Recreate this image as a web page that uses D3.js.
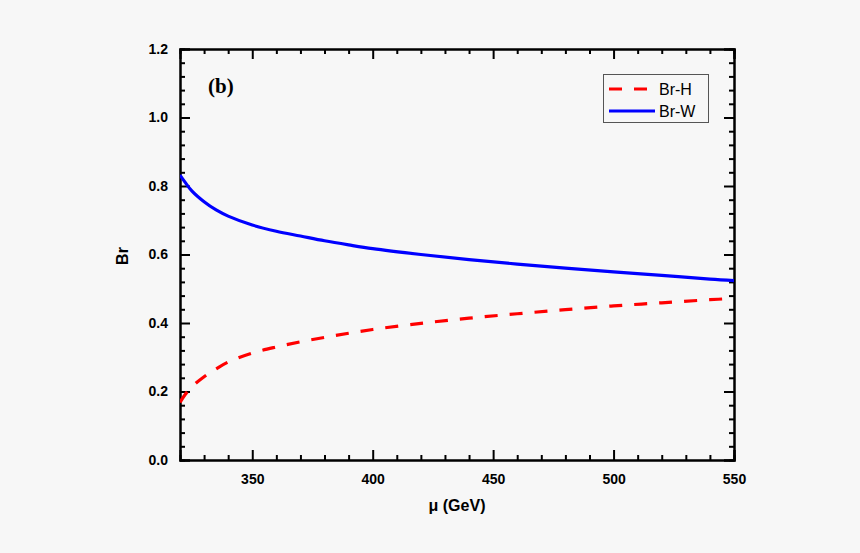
<!DOCTYPE html>
<html>
<head>
<meta charset="utf-8">
<script src="https://cdn.jsdelivr.net/npm/d3@7"></script>
<style>
  html, body { margin: 0; padding: 0; background: #f7f7f7; }
  svg { display: block; }
</style>
</head>
<body>
<svg id="chart" width="860" height="553"></svg>
<script>
// ---- data ----
const mu = [320, 322, 325, 330, 335, 340, 350, 360, 370, 380, 390, 400, 420, 440, 460, 480, 500, 520, 540, 550];
const brW = [0.832, 0.812, 0.785, 0.754, 0.730, 0.712, 0.686, 0.668, 0.654, 0.640, 0.628, 0.617, 0.600, 0.585, 0.572, 0.560, 0.549, 0.539, 0.528, 0.524];
const brH = [0.168, 0.190, 0.214, 0.243, 0.266, 0.286, 0.312, 0.330, 0.345, 0.358, 0.370, 0.381, 0.399, 0.414, 0.427, 0.439, 0.450, 0.459, 0.468, 0.472];
const xMajorTicks = [350, 400, 450, 500, 550];
const yMajorTicks = [0.0, 0.2, 0.4, 0.6, 0.8, 1.0, 1.2];
const seriesNames = ["Br-H", "Br-W"];

(function () {
const svg = d3.select("#chart");
const mLeft = 180, mRight = 734, mTop = 49, mBottom = 460;

const x = d3.scaleLinear().domain([320, 550]).range([mLeft, mRight]);
const y = d3.scaleLinear().domain([0, 1.2]).range([mBottom, mTop]);

const xMinor = d3.range(330, 551, 10).filter(v => !xMajorTicks.includes(v));
const yMinor = d3.range(0, 31, 1).map(i => i * 0.04).filter(v => Math.abs(v * 5 - Math.round(v * 5)) > 1e-6);

const tickFont = "bold 14px 'Liberation Sans', Arial, sans-serif";

// bottom axis
const gB = svg.append("g").attr("transform", `translate(0,${mBottom})`);
gB.call(d3.axisBottom(x).tickValues(xMajorTicks).tickSize(-10).tickPadding(14).tickFormat(d3.format("d")));
gB.append("g").call(d3.axisBottom(x).tickValues(xMinor).tickSize(-5).tickFormat(""));
// top axis
const gT = svg.append("g").attr("transform", `translate(0,${mTop})`);
gT.call(d3.axisTop(x).tickValues(xMajorTicks).tickSize(-10).tickFormat(""));
gT.append("g").call(d3.axisTop(x).tickValues(xMinor).tickSize(-5).tickFormat(""));
// left axis
const gL = svg.append("g").attr("transform", `translate(${mLeft},0)`);
gL.call(d3.axisLeft(y).tickValues(yMajorTicks).tickSize(-10).tickPadding(12).tickFormat(d3.format(".1f")));
gL.append("g").call(d3.axisLeft(y).tickValues(yMinor).tickSize(-5).tickFormat(""));
// right axis
const gR = svg.append("g").attr("transform", `translate(${mRight},0)`);
gR.call(d3.axisRight(y).tickValues(yMajorTicks).tickSize(-10).tickFormat(""));
gR.append("g").call(d3.axisRight(y).tickValues(yMinor).tickSize(-5).tickFormat(""));

svg.selectAll(".domain").attr("stroke", "#000").attr("stroke-width", 2);
svg.selectAll(".tick line").attr("stroke", "#000").attr("stroke-width", 2);
svg.selectAll(".tick text").style("font", tickFont).attr("fill", "#000");

// lines
const lineGen = vals => d3.line().x((d, i) => x(mu[i])).y((d, i) => y(vals[i])).curve(d3.curveCatmullRom.alpha(0.5))(vals);
svg.append("clipPath").attr("id", "clip").append("rect")
  .attr("x", mLeft).attr("y", mTop).attr("width", mRight - mLeft).attr("height", mBottom - mTop);

svg.append("path").attr("d", lineGen(brH)).attr("fill", "none")
  .attr("stroke", "#ff0000").attr("stroke-width", 3.2).attr("stroke-dasharray", "13,12")
  .attr("clip-path", "url(#clip)");
svg.append("path").attr("d", lineGen(brW)).attr("fill", "none")
  .attr("stroke", "#0000ff").attr("stroke-width", 3.2)
  .attr("clip-path", "url(#clip)");

// axis titles
svg.append("text").attr("x", (mLeft + mRight) / 2).attr("y", 511).attr("text-anchor", "middle")
  .style("font", "bold 16px 'Liberation Sans', Arial, sans-serif").text("μ (GeV)");
svg.append("text").attr("transform", "translate(128,256) rotate(-90)").attr("text-anchor", "middle")
  .style("font", "bold 16px 'Liberation Sans', Arial, sans-serif").text("Br");

// panel label
svg.append("text").attr("x", 208).attr("y", 93)
  .style("font", "bold 21px 'Liberation Serif', 'Times New Roman', serif").text("(b)");

// legend
const lg = svg.append("g");
lg.append("rect").attr("x", 603.5).attr("y", 74.5).attr("width", 105).attr("height", 48)
  .attr("fill", "#f7f7f7").attr("stroke", "#555").attr("stroke-width", 1);
const colors = ["#ff0000", "#0000ff"];
const dashes = ["13,12", null];
seriesNames.forEach((name, i) => {
  const yy = 89 + i * 22;
  lg.append("line").attr("x1", 609).attr("x2", 655).attr("y1", yy).attr("y2", yy)
    .attr("stroke", colors[i]).attr("stroke-width", 3).attr("stroke-dasharray", dashes[i]);
  lg.append("text").attr("x", 659).attr("y", yy + 6)
    .style("font", "16px 'Liberation Sans', Arial, sans-serif").text(name);
});
})();
</script>
</body>
</html>
